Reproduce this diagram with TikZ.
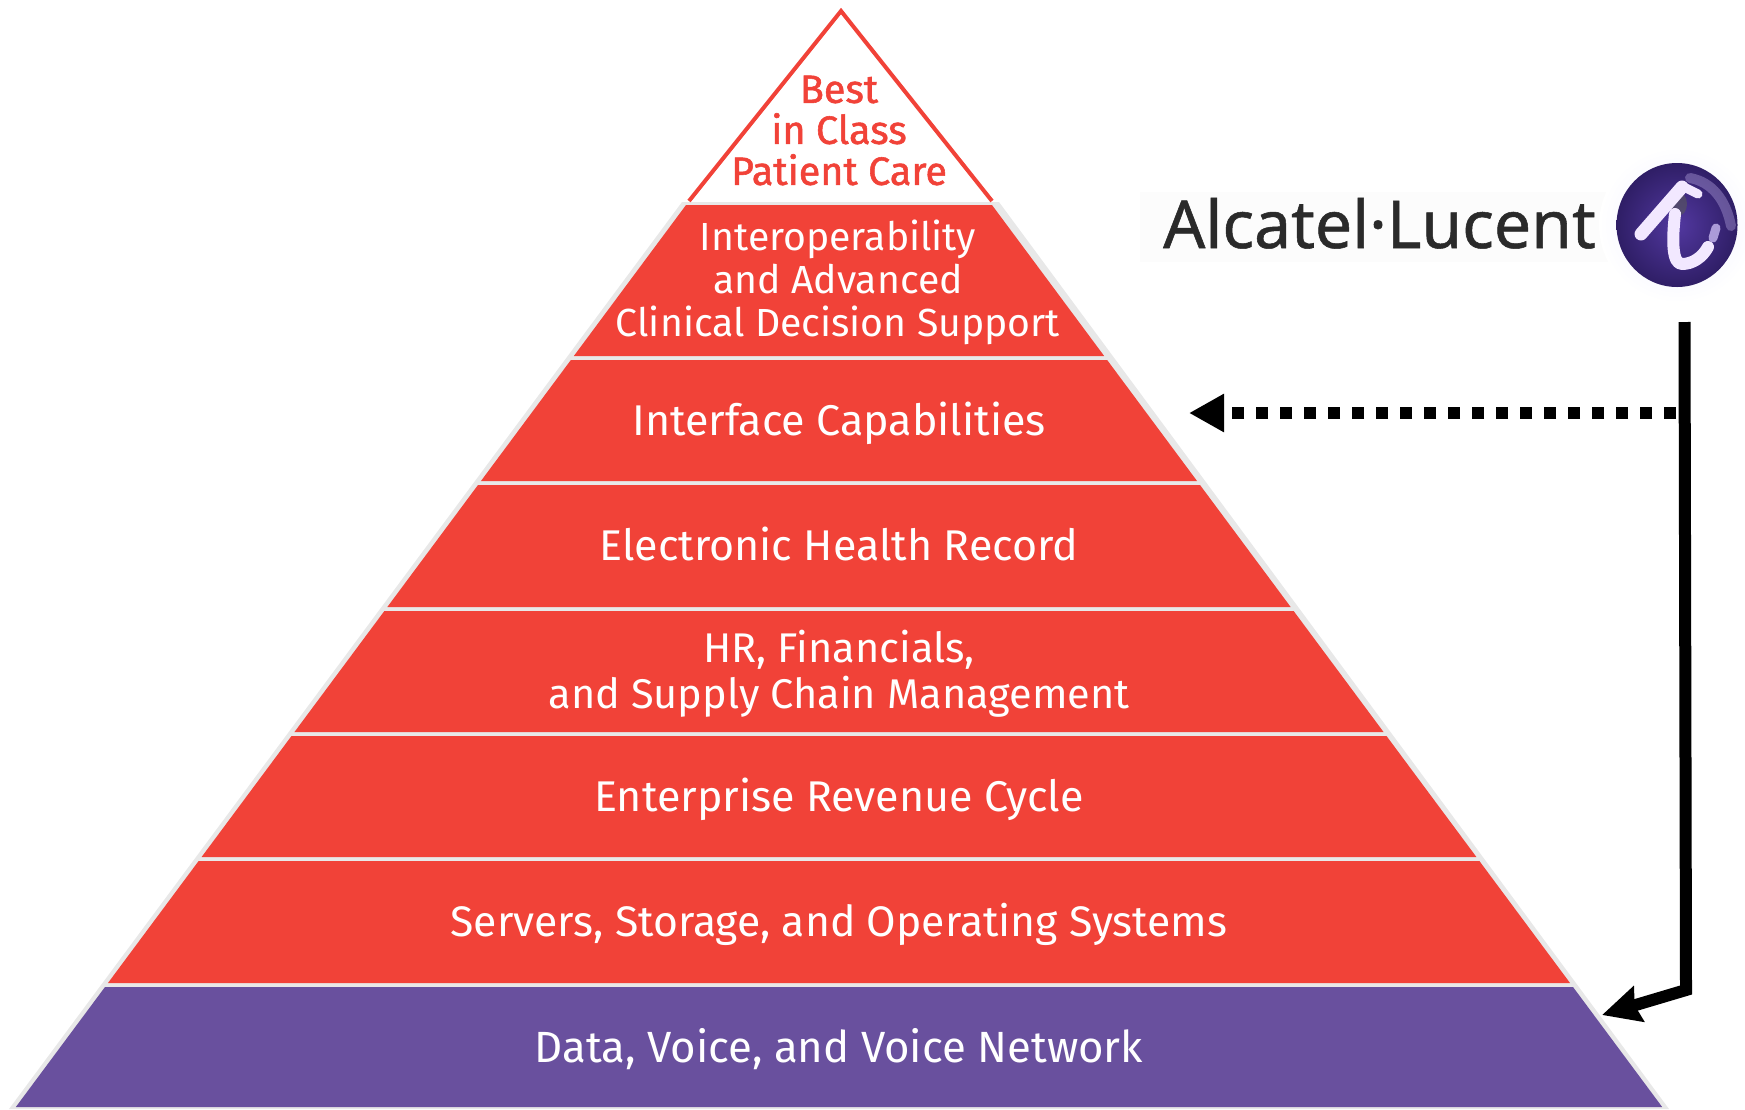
\documentclass[tikz,border=0pt]{standalone}
\usepackage{fontspec}
\setmainfont{Fira Sans}
\newfontfamily\logofont{Noto Sans}[FakeBold=0.8]
\newfontfamily\topfont{Fira Sans}[FakeBold=1.4]
\usetikzlibrary{arrows.meta}
\definecolor{pyrred}{HTML}{F14238}
\definecolor{pyrpurple}{HTML}{69509E}
\definecolor{pyredge}{HTML}{E8E8E8}
\definecolor{logoink}{HTML}{2A2A2A}
\definecolor{ballmid}{HTML}{5238A0}
\definecolor{balldark}{HTML}{2F1E66}
\definecolor{ballglyph}{HTML}{F2E8FF}
\definecolor{ballglow}{HTML}{C8B8F0}
\newcommand{\pyrband}[3]{%
  \pgfmathsetmacro{\xa}{105+0.743*(987-#1)}%
  \pgfmathsetmacro{\xb}{1573-0.743*(987-#1)}%
  \pgfmathsetmacro{\xc}{105+0.743*(987-#2)}%
  \pgfmathsetmacro{\xd}{1573-0.743*(987-#2)}%
  \fill[#3] (\xa,#1) -- (\xb,#1) -- (\xd,#2) -- (\xc,#2) -- cycle;}
\tikzset{
  bandline/.style={text=white,font=\fontsize{43}{46}\selectfont,inner sep=0pt,anchor=base},
  bandtext/.style={text=white,inner sep=0pt,align=center},
  toptext/.style={text=pyrred,font=\topfont\fontsize{39.5}{41}\selectfont,inner sep=0pt,align=center},
  solidlink/.style={draw=black,line width=12pt,miter limit=10},
  dottedlink/.style={draw=black,line width=12pt,dash pattern=on 12pt off 12pt}
}
\begin{document}
\begin{tikzpicture}[x=1pt,y=-1pt]
\useasboundingbox (0,0) rectangle (1745,1109);
% edge silhouette
\fill[pyredge] (682,202) -- (999,202) -- (1669,1109) -- (9,1109) -- cycle;
% bands
\pyrband{205}{356}{pyrred}
\pyrband{360}{481}{pyrred}
\pyrband{485}{607}{pyrred}
\pyrband{611}{732}{pyrred}
\pyrband{736}{857}{pyrred}
\pyrband{861}{983}{pyrred}
\pyrband{987}{1107}{pyrpurple}
% apex
\fill[white] (841,8) -- (687,201) -- (994,201) -- cycle;
\draw[pyrred,line width=4pt,miter limit=10] (689,201) -- (841,11) -- (992,201);
% labels
\node[toptext] (lbest) at (839,130.5) {Best\\in Class\\Patient Care};
\node[bandtext,font=\fontsize{39.2}{43}\selectfont] (lclin) at (838,282) {Interoperability\\and Advanced\\Clinical Decision Support};
\node[bandline] (liface) at (839,435) {Interface Capabilities};
\node[bandline] (lehr) at (839,560) {Electronic Health Record};
\node[bandtext,font=\fontsize{41.5}{46}\selectfont] (lhr) at (839,674) {HR, Financials,\\and Supply Chain Management};
\node[bandline] (lrev) at (839,811) {Enterprise Revenue Cycle};
\node[bandline,font=\fontsize{42.7}{46}\selectfont] (lsrv) at (839,936) {Servers, Storage, and Operating Systems};
\node[bandline,font=\fontsize{43.7}{46}\selectfont] (ldata) at (839,1062) {Data, Voice, and Voice Network};
% logo
\fill[black!1] (1140,192) rectangle (1612,262);
\shade[inner color=blue!7!white,outer color=white] (1677,225) ellipse [x radius=78,y radius=78];
\node[anchor=base west,inner sep=0pt,text=logoink,font=\logofont\fontsize{66}{66}\selectfont] (logotext) at (1163,248) {Alcatel·Lucent};
\shade[inner color=ballmid,outer color=balldark] (1677,225) ellipse [x radius=60.5,y radius=62];
\draw[ballglow,line width=10pt,line cap=round,opacity=.35] (1690,178) .. controls (1712,182) and (1726,200) .. (1731,226);
\draw[ballglow,line width=9pt,line cap=round,opacity=.8] (1713,238) -- (1716,228);
\fill[black!65,opacity=.6] (1678,204) ellipse [x radius=9,y radius=12];
\draw[ballglyph,line width=13pt,line cap=round] (1641,234) -- (1682,187);
\draw[ballglyph,line width=9pt,line cap=round] (1682,186) -- (1698,194);
\draw[ballglyph,line width=12pt,line cap=round,line join=round] (1675,214) .. controls (1672,240) and (1672,264) .. (1682,264) .. controls (1692,264) and (1702,258) .. (1708,247);
% connectors
\coordinate (trunktop) at (1684.5,322);
\coordinate (trunkbend) at (1686,990);
\coordinate (trunkend) at (1602,1015);
\coordinate (branch) at (1676,413);
\coordinate (ifacept) at (1189,413);
\draw[solidlink,-{Stealth[length=38pt,width=36pt,inset=4pt]}] (trunktop) -- (trunkbend) -- (trunkend);
\draw[dottedlink,-{Triangle[length=35pt,width=36pt]}] (branch) -- (ifacept);
\end{tikzpicture}
\end{document}
